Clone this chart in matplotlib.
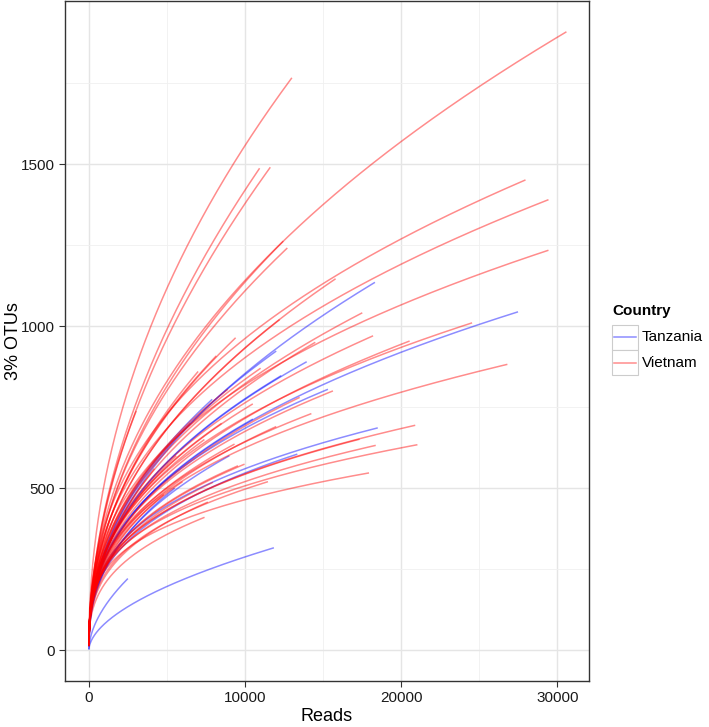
import numpy as np
import matplotlib
matplotlib.use("Agg")
import matplotlib.pyplot as plt
from matplotlib.patches import Rectangle
from matplotlib.lines import Line2D

plt.rcParams['font.family'] = ['Liberation Sans', 'DejaVu Sans']

# ---- data: rarefaction curve end points (reads, OTUs) and curvature exponent ----
tz_reads = [27480, 18320, 18500, 15310, 11850, 2500, 13350, 13950, 12000, 7900,
            12320, 10500, 9000, 5500]
tz_otus = [1044, 1135, 686, 805, 316, 221, 605, 890, 923, 774,
           847, 713, 600, 500]
tz_shape = [0.40, 0.47, 0.33, 0.38, 0.55, 0.55, 0.35, 0.42, 0.45, 0.45,
            0.42, 0.40, 0.40, 0.42]

vn_reads = [30580, 13000, 10935, 11620, 12450, 12710, 15800, 27960, 29430, 29430,
            17510, 18200, 24540, 20540, 26800, 20900, 21040, 17940, 18370, 17340,
            15630, 14250, 12220, 9400, 8160, 3035, 9970, 9550, 7945, 7410,
            9330, 11470, 7620, 8900, 7400, 6500, 5600, 10500, 11000, 6000,
            4800, 12000, 13500, 14500, 8500, 4200, 7000]
vn_otus = [1908, 1766, 1487, 1490, 1262, 1241, 1146, 1451, 1390, 1234,
           1041, 970, 1010, 954, 882, 694, 634, 547, 632, 651,
           800, 730, 1020, 964, 908, 738, 574, 569, 518, 410,
           636, 520, 457, 805, 650, 700, 600, 760, 870, 520,
           480, 690, 780, 950, 700, 560, 860]
vn_shape = [0.46, 0.48, 0.52, 0.52, 0.48, 0.47, 0.45, 0.40, 0.40, 0.38,
            0.42, 0.40, 0.38, 0.40, 0.35, 0.33, 0.30, 0.28, 0.32, 0.33,
            0.38, 0.36, 0.45, 0.45, 0.45, 0.50, 0.35, 0.35, 0.35, 0.35,
            0.38, 0.33, 0.35, 0.42, 0.40, 0.42, 0.42, 0.40, 0.42, 0.38,
            0.40, 0.38, 0.40, 0.43, 0.40, 0.45, 0.46]

countries = ["Tanzania", "Vietnam"]
colors = {"Tanzania": "blue", "Vietnam": "red"}

fig = plt.figure(figsize=(7.09, 7.27), dpi=100)
ax = fig.add_axes([65/709, 1 - 681/727, (589-65)/709, (681-1)/727])

def curve(N, S, b):
    n = np.linspace(1, N, 300)
    return n, S * (n / N) ** b

for N, S, b in zip(tz_reads, tz_otus, tz_shape):
    x, y = curve(N, S, b)
    ax.plot(x, y, color=colors["Tanzania"], alpha=0.45, lw=1.1, solid_capstyle='butt')
for N, S, b in zip(vn_reads, vn_otus, vn_shape):
    x, y = curve(N, S, b)
    ax.plot(x, y, color=colors["Vietnam"], alpha=0.45, lw=1.1, solid_capstyle='butt')

ax.set_xlim(-1525, 32025)
ax.set_ylim(-95, 2003)
ax.set_xticks([0, 10000, 20000, 30000])
ax.set_yticks([0, 500, 1000, 1500])
ax.set_xticks([5000, 15000, 25000], minor=True)
ax.set_yticks([250, 750, 1250, 1750], minor=True)
ax.grid(True, which='major', color='#e5e5e5', lw=1.0)
ax.grid(True, which='minor', color='#f0f0f0', lw=0.6)
ax.set_axisbelow(True)
for s in ax.spines.values():
    s.set_color('#333333')
    s.set_linewidth(1.0)
ax.tick_params(which='major', length=4, color='#333333', labelsize=11, labelcolor='#1a1a1a')
ax.tick_params(which='minor', length=0)
ax.set_xlabel("Reads", fontsize=13, labelpad=2)
ax.set_ylabel("3% OTUs", fontsize=13, va='center', ha='center')
ax.yaxis.set_label_coords((14 - 65) / (589 - 65), 0.5)

# legend drawn manually (ggplot style)
fig.text(612/709, 1 - 311/727, "Country", fontsize=11, fontweight='bold', va='center', ha='left')
key_h = 25
for i, c in enumerate(countries):
    top = 325 + i * key_h
    r = Rectangle((612/709, 1 - (top + key_h)/727), 26/709, key_h/727, transform=fig.transFigure,
                  facecolor='white', edgecolor='#cccccc', lw=0.8)
    fig.patches.append(r)
    fig.lines.append(Line2D([614/709, 636/709], [1 - (top + key_h/2)/727] * 2, transform=fig.transFigure,
                            color=colors[c], alpha=0.45, lw=1.1))
    fig.text(642/709, 1 - (top + key_h/2)/727, c, fontsize=11, va='center', ha='left')

fig.savefig("out.png", dpi=100)
